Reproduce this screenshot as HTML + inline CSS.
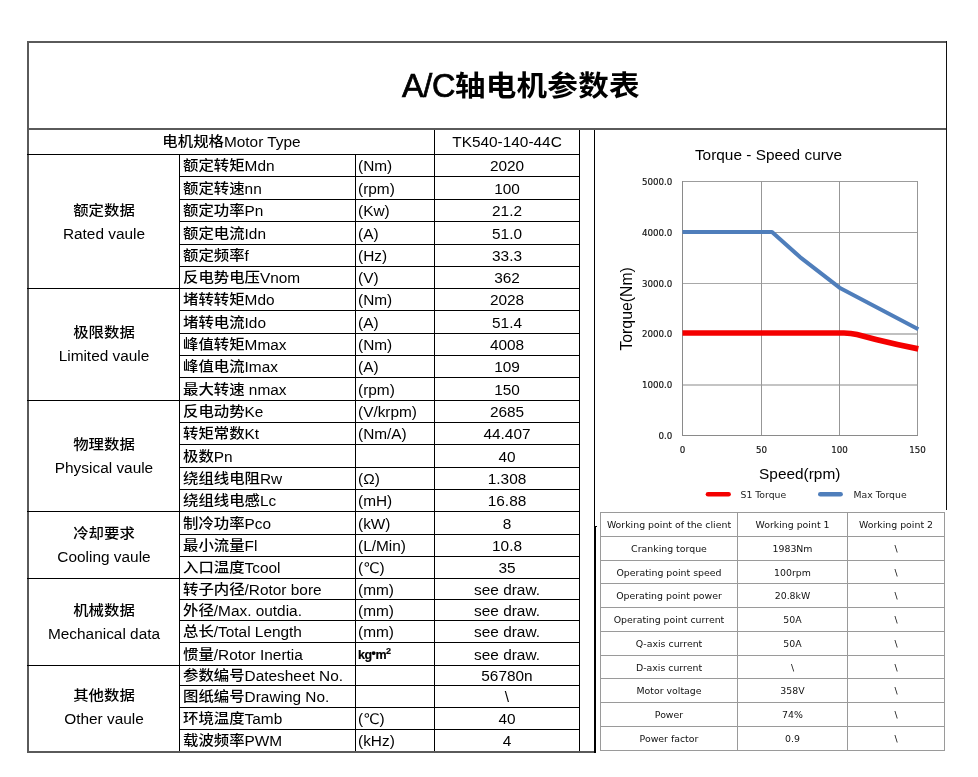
<!DOCTYPE html>
<html><head><meta charset="utf-8"><title>A/C轴电机参数表</title>
<style>
*{margin:0;padding:0;box-sizing:border-box}
html,body{width:978px;height:777px;background:#fff;overflow:hidden}
body{position:relative;font-family:"Liberation Sans","Noto Sans CJK SC",sans-serif;color:#000}
.l{position:absolute}
.c{position:absolute;display:flex;align-items:center;font-weight:500;font-size:15.4px;line-height:17px;white-space:nowrap;padding-top:0.0px}
.ctr{justify-content:center;text-align:center}
.lft{justify-content:flex-start}
.g{line-height:23px;text-align:center}
.cj{display:inline-block;transform:translateY(-0.8px) scaleY(0.9);transform-origin:50% 75%}
.kg{font-weight:bold;font-size:12.5px;letter-spacing:-0.5px;position:relative;top:0.6px;-webkit-text-stroke:0.2px #000}
.bu{position:relative;top:-2.5px}
.dc{font-family:"DejaVu Sans",sans-serif;font-size:14.6px;font-weight:normal}
.kg sup{font-size:9px;vertical-align:5px;line-height:0}
.tc{font-size:30.6px;letter-spacing:0.2px;display:inline-block;transform:translateY(-1px) scaleY(0.93);transform-origin:50% 60%}
.title{position:absolute;left:402px;top:65.5px;font-size:32.5px;font-weight:bold;line-height:40px;white-space:nowrap}
.ta{font-weight:normal;-webkit-text-stroke:0.7px #000;letter-spacing:-0.4px}
.chart{position:absolute;left:0;top:0}
.chart text{font-family:"Liberation Sans",sans-serif;fill:#000}
.tk{font-family:"DejaVu Sans",sans-serif!important;font-size:8.7px;fill:#111!important;stroke:#111;stroke-width:0.15px}
.ttl{font-size:15.4px}
.ax{font-size:15.4px}
.lg{font-family:"DejaVu Sans",sans-serif!important;font-size:9.3px;fill:#222!important}
.w{position:absolute;display:flex;align-items:center;justify-content:center;font-family:"DejaVu Sans",sans-serif;font-size:9.4px;color:#111;white-space:nowrap}
</style></head><body>
<div class="l" style="left:27px;top:41px;width:920px;height:2px;background:#5a5a5a"></div>
<div class="l" style="left:27px;top:41px;width:2px;height:712px;background:#5a5a5a"></div>
<div class="l" style="left:27px;top:128px;width:920px;height:2px;background:#5a5a5a"></div>
<div class="l" style="left:27px;top:751px;width:569px;height:2px;background:#5a5a5a"></div>
<div class="l" style="left:946px;top:41px;width:1px;height:469px;background:#111"></div>
<div class="title"><span class="ta">A/C</span><span class="tc">轴电机参数表</span></div>
<div class="l" style="left:27px;top:154px;width:552px;height:1px;background:#000"></div>
<div class="c ctr" style="left:29px;top:129px;width:405px;height:24px"><span><span class="cj">电机规格</span>Motor Type</span></div>
<div class="c ctr" style="left:435px;top:129px;width:144px;height:24px"><span>TK540-140-44C</span></div>
<div class="l" style="left:434px;top:130px;width:1px;height:621px;background:#000"></div>
<div class="l" style="left:579px;top:130px;width:1px;height:621px;background:#000"></div>
<div class="l" style="left:594px;top:130px;width:1px;height:397px;background:#000"></div>
<div class="l" style="left:594px;top:527px;width:2px;height:226px;background:#000"></div>
<div class="l" style="left:594px;top:526px;width:3px;height:1px;background:#000"></div>
<div class="l" style="left:179px;top:154px;width:1px;height:597px;background:#000"></div>
<div class="l" style="left:355px;top:154px;width:1px;height:597px;background:#000"></div>
<div class="l" style="left:179px;top:176px;width:401px;height:1px;background:#000"></div>
<div class="l" style="left:179px;top:199px;width:401px;height:1px;background:#000"></div>
<div class="l" style="left:179px;top:221px;width:401px;height:1px;background:#000"></div>
<div class="l" style="left:179px;top:244px;width:401px;height:1px;background:#000"></div>
<div class="l" style="left:179px;top:266px;width:401px;height:1px;background:#000"></div>
<div class="l" style="left:179px;top:288px;width:401px;height:1px;background:#000"></div>
<div class="l" style="left:179px;top:310px;width:401px;height:1px;background:#000"></div>
<div class="l" style="left:179px;top:333px;width:401px;height:1px;background:#000"></div>
<div class="l" style="left:179px;top:355px;width:401px;height:1px;background:#000"></div>
<div class="l" style="left:179px;top:377px;width:401px;height:1px;background:#000"></div>
<div class="l" style="left:179px;top:400px;width:401px;height:1px;background:#000"></div>
<div class="l" style="left:179px;top:422px;width:401px;height:1px;background:#000"></div>
<div class="l" style="left:179px;top:444px;width:401px;height:1px;background:#000"></div>
<div class="l" style="left:179px;top:467px;width:401px;height:1px;background:#000"></div>
<div class="l" style="left:179px;top:489px;width:401px;height:1px;background:#000"></div>
<div class="l" style="left:179px;top:511px;width:401px;height:1px;background:#000"></div>
<div class="l" style="left:179px;top:534px;width:401px;height:1px;background:#000"></div>
<div class="l" style="left:179px;top:556px;width:401px;height:1px;background:#000"></div>
<div class="l" style="left:179px;top:578px;width:401px;height:1px;background:#000"></div>
<div class="l" style="left:179px;top:599px;width:401px;height:1px;background:#000"></div>
<div class="l" style="left:179px;top:620px;width:401px;height:1px;background:#000"></div>
<div class="l" style="left:179px;top:642px;width:401px;height:1px;background:#000"></div>
<div class="l" style="left:179px;top:665px;width:401px;height:1px;background:#000"></div>
<div class="l" style="left:179px;top:685px;width:401px;height:1px;background:#000"></div>
<div class="l" style="left:179px;top:707px;width:401px;height:1px;background:#000"></div>
<div class="l" style="left:179px;top:729px;width:401px;height:1px;background:#000"></div>
<div class="l" style="left:27px;top:288px;width:152px;height:1px;background:#000"></div>
<div class="l" style="left:27px;top:400px;width:152px;height:1px;background:#000"></div>
<div class="l" style="left:27px;top:511px;width:152px;height:1px;background:#000"></div>
<div class="l" style="left:27px;top:578px;width:152px;height:1px;background:#000"></div>
<div class="l" style="left:27px;top:665px;width:152px;height:1px;background:#000"></div>
<div class="c lft" style="left:183px;top:155px;width:171px;height:21px"><span><span class="cj">额定转矩</span>Mdn</span></div>
<div class="c lft" style="left:358px;top:155px;width:75px;height:21px"><span>(Nm)</span></div>
<div class="c ctr" style="left:435px;top:155px;width:144px;height:21px"><span>2020</span></div>
<div class="c lft" style="left:183px;top:177px;width:171px;height:22px"><span><span class="cj">额定转速</span>nn</span></div>
<div class="c lft" style="left:358px;top:177px;width:75px;height:22px"><span>(rpm)</span></div>
<div class="c ctr" style="left:435px;top:177px;width:144px;height:22px"><span>100</span></div>
<div class="c lft" style="left:183px;top:200px;width:171px;height:21px"><span><span class="cj">额定功率</span>Pn</span></div>
<div class="c lft" style="left:358px;top:200px;width:75px;height:21px"><span>(Kw)</span></div>
<div class="c ctr" style="left:435px;top:200px;width:144px;height:21px"><span>21.2</span></div>
<div class="c lft" style="left:183px;top:222px;width:171px;height:22px"><span><span class="cj">额定电流</span>Idn</span></div>
<div class="c lft" style="left:358px;top:222px;width:75px;height:22px"><span>(A)</span></div>
<div class="c ctr" style="left:435px;top:222px;width:144px;height:22px"><span>51.0</span></div>
<div class="c lft" style="left:183px;top:245px;width:171px;height:21px"><span><span class="cj">额定频率</span>f</span></div>
<div class="c lft" style="left:358px;top:245px;width:75px;height:21px"><span>(Hz)</span></div>
<div class="c ctr" style="left:435px;top:245px;width:144px;height:21px"><span>33.3</span></div>
<div class="c lft" style="left:183px;top:267px;width:171px;height:21px"><span><span class="cj">反电势电压</span>Vnom</span></div>
<div class="c lft" style="left:358px;top:267px;width:75px;height:21px"><span>(V)</span></div>
<div class="c ctr" style="left:435px;top:267px;width:144px;height:21px"><span>362</span></div>
<div class="c lft" style="left:183px;top:289px;width:171px;height:21px"><span><span class="cj">堵转转矩</span>Mdo</span></div>
<div class="c lft" style="left:358px;top:289px;width:75px;height:21px"><span>(Nm)</span></div>
<div class="c ctr" style="left:435px;top:289px;width:144px;height:21px"><span>2028</span></div>
<div class="c lft" style="left:183px;top:311px;width:171px;height:22px"><span><span class="cj">堵转电流</span>Ido</span></div>
<div class="c lft" style="left:358px;top:311px;width:75px;height:22px"><span>(A)</span></div>
<div class="c ctr" style="left:435px;top:311px;width:144px;height:22px"><span>51.4</span></div>
<div class="c lft" style="left:183px;top:334px;width:171px;height:21px"><span><span class="cj">峰值转矩</span>Mmax</span></div>
<div class="c lft" style="left:358px;top:334px;width:75px;height:21px"><span>(Nm)</span></div>
<div class="c ctr" style="left:435px;top:334px;width:144px;height:21px"><span>4008</span></div>
<div class="c lft" style="left:183px;top:356px;width:171px;height:21px"><span><span class="cj">峰值电流</span>Imax</span></div>
<div class="c lft" style="left:358px;top:356px;width:75px;height:21px"><span>(A)</span></div>
<div class="c ctr" style="left:435px;top:356px;width:144px;height:21px"><span>109</span></div>
<div class="c lft" style="left:183px;top:378px;width:171px;height:22px"><span><span class="cj">最大转速</span> nmax</span></div>
<div class="c lft" style="left:358px;top:378px;width:75px;height:22px"><span>(rpm)</span></div>
<div class="c ctr" style="left:435px;top:378px;width:144px;height:22px"><span>150</span></div>
<div class="c lft" style="left:183px;top:401px;width:171px;height:21px"><span><span class="cj">反电动势</span>Ke</span></div>
<div class="c lft" style="left:358px;top:401px;width:75px;height:21px"><span>(V/krpm)</span></div>
<div class="c ctr" style="left:435px;top:401px;width:144px;height:21px"><span>2685</span></div>
<div class="c lft" style="left:183px;top:423px;width:171px;height:21px"><span><span class="cj">转矩常数</span>Kt</span></div>
<div class="c lft" style="left:358px;top:423px;width:75px;height:21px"><span>(Nm/A)</span></div>
<div class="c ctr" style="left:435px;top:423px;width:144px;height:21px"><span>44.407</span></div>
<div class="c lft" style="left:183px;top:445px;width:171px;height:22px"><span><span class="cj">极数</span>Pn</span></div>
<div class="c ctr" style="left:435px;top:445px;width:144px;height:22px"><span>40</span></div>
<div class="c lft" style="left:183px;top:468px;width:171px;height:21px"><span><span class="cj">绕组线电阻</span>Rw</span></div>
<div class="c lft" style="left:358px;top:468px;width:75px;height:21px"><span>(Ω)</span></div>
<div class="c ctr" style="left:435px;top:468px;width:144px;height:21px"><span>1.308</span></div>
<div class="c lft" style="left:183px;top:490px;width:171px;height:21px"><span><span class="cj">绕组线电感</span>Lc</span></div>
<div class="c lft" style="left:358px;top:490px;width:75px;height:21px"><span>(mH)</span></div>
<div class="c ctr" style="left:435px;top:490px;width:144px;height:21px"><span>16.88</span></div>
<div class="c lft" style="left:183px;top:512px;width:171px;height:22px"><span><span class="cj">制冷功率</span>Pco</span></div>
<div class="c lft" style="left:358px;top:512px;width:75px;height:22px"><span>(kW)</span></div>
<div class="c ctr" style="left:435px;top:512px;width:144px;height:22px"><span>8</span></div>
<div class="c lft" style="left:183px;top:535px;width:171px;height:21px"><span><span class="cj">最小流量</span>Fl</span></div>
<div class="c lft" style="left:358px;top:535px;width:75px;height:21px"><span>(L/Min)</span></div>
<div class="c ctr" style="left:435px;top:535px;width:144px;height:21px"><span>10.8</span></div>
<div class="c lft" style="left:183px;top:557px;width:171px;height:21px"><span><span class="cj">入口温度</span>Tcool</span></div>
<div class="c lft" style="left:358px;top:557px;width:75px;height:21px"><span>(<span class="dc">℃</span>)</span></div>
<div class="c ctr" style="left:435px;top:557px;width:144px;height:21px"><span>35</span></div>
<div class="c lft" style="left:183px;top:579px;width:171px;height:20px"><span><span class="cj">转子内径</span>/Rotor bore</span></div>
<div class="c lft" style="left:358px;top:579px;width:75px;height:20px"><span>(mm)</span></div>
<div class="c ctr" style="left:435px;top:579px;width:144px;height:20px"><span>see draw.</span></div>
<div class="c lft" style="left:183px;top:600px;width:171px;height:20px"><span><span class="cj">外径</span>/Max. outdia.</span></div>
<div class="c lft" style="left:358px;top:600px;width:75px;height:20px"><span>(mm)</span></div>
<div class="c ctr" style="left:435px;top:600px;width:144px;height:20px"><span>see draw.</span></div>
<div class="c lft" style="left:183px;top:621px;width:171px;height:21px"><span><span class="cj">总长</span>/Total Length</span></div>
<div class="c lft" style="left:358px;top:621px;width:75px;height:21px"><span>(mm)</span></div>
<div class="c ctr" style="left:435px;top:621px;width:144px;height:21px"><span>see draw.</span></div>
<div class="c lft" style="left:183px;top:643px;width:171px;height:22px"><span><span class="cj">惯量</span>/Rotor Inertia</span></div>
<div class="c lft" style="left:358px;top:643px;width:75px;height:22px"><span><span class="kg">kg<span class="bu">•</span>m<sup>2</sup></span></span></div>
<div class="c ctr" style="left:435px;top:643px;width:144px;height:22px"><span>see draw.</span></div>
<div class="c lft" style="left:183px;top:666px;width:171px;height:19px"><span><span class="cj">参数编号</span>Datesheet No.</span></div>
<div class="c ctr" style="left:435px;top:666px;width:144px;height:19px"><span>56780n</span></div>
<div class="c lft" style="left:183px;top:686px;width:171px;height:21px"><span><span class="cj">图纸编号</span>Drawing No.</span></div>
<div class="c ctr" style="left:435px;top:686px;width:144px;height:21px"><span>\</span></div>
<div class="c lft" style="left:183px;top:708px;width:171px;height:21px"><span><span class="cj">环境温度</span>Tamb</span></div>
<div class="c lft" style="left:358px;top:708px;width:75px;height:21px"><span>(<span class="dc">℃</span>)</span></div>
<div class="c ctr" style="left:435px;top:708px;width:144px;height:21px"><span>40</span></div>
<div class="c lft" style="left:183px;top:730px;width:171px;height:21px"><span><span class="cj">载波频率</span>PWM</span></div>
<div class="c lft" style="left:358px;top:730px;width:75px;height:21px"><span>(kHz)</span></div>
<div class="c ctr" style="left:435px;top:730px;width:144px;height:21px"><span>4</span></div>
<div class="c ctr" style="left:29px;top:155px;width:150px;height:133px"><span><div class="g"><span class="cj">额定数据</span><br>Rated vaule</div></span></div>
<div class="c ctr" style="left:29px;top:288px;width:150px;height:111px"><span><div class="g"><span class="cj">极限数据</span><br>Limited vaule</div></span></div>
<div class="c ctr" style="left:29px;top:401px;width:150px;height:110px"><span><div class="g"><span class="cj">物理数据</span><br>Physical vaule</div></span></div>
<div class="c ctr" style="left:29px;top:512px;width:150px;height:66px"><span><div class="g"><span class="cj">冷却要求</span><br>Cooling vaule</div></span></div>
<div class="c ctr" style="left:29px;top:579px;width:150px;height:86px"><span><div class="g"><span class="cj">机械数据</span><br>Mechanical data</div></span></div>
<div class="c ctr" style="left:29px;top:664.7px;width:150px;height:85px"><span><div class="g"><span class="cj">其他数据</span><br>Other vaule</div></span></div>
<svg class="chart" width="978" height="777" viewBox="0 0 978 777">
<line x1="682" x2="918" y1="385.0" y2="385.0" stroke="#c4c4c4" stroke-width="2"/>
<line x1="682" x2="918" y1="334.0" y2="334.0" stroke="#c0c0c0" stroke-width="2"/>
<line x1="682" x2="918" y1="283.5" y2="283.5" stroke="#a8a8a8" stroke-width="1"/>
<line x1="682" x2="918" y1="232.5" y2="232.5" stroke="#a0a0a0" stroke-width="1"/>
<line x1="682" x2="918" y1="181.5" y2="181.5" stroke="#9c9c9c" stroke-width="1"/>
<line x1="761.5" x2="761.5" y1="181" y2="436" stroke="#979797" stroke-width="1"/>
<line x1="839.5" x2="839.5" y1="181" y2="436" stroke="#979797" stroke-width="1"/>
<line x1="917.5" x2="917.5" y1="181" y2="436" stroke="#979797" stroke-width="1"/>
<line x1="682.5" x2="682.5" y1="181" y2="436" stroke="#8a8a8a" stroke-width="1"/>
<line x1="682" x2="918" y1="435.5" y2="435.5" stroke="#8a8a8a" stroke-width="1"/>
<text x="672.3" y="438.7" class="tk" text-anchor="end">0.0</text>
<text x="672.3" y="388.2" class="tk" text-anchor="end">1000.0</text>
<text x="672.3" y="337.2" class="tk" text-anchor="end">2000.0</text>
<text x="672.3" y="286.7" class="tk" text-anchor="end">3000.0</text>
<text x="672.3" y="235.7" class="tk" text-anchor="end">4000.0</text>
<text x="672.3" y="184.7" class="tk" text-anchor="end">5000.0</text>
<text x="682.5" y="452.8" class="tk" text-anchor="middle">0</text>
<text x="761.5" y="452.8" class="tk" text-anchor="middle">50</text>
<text x="839.5" y="452.8" class="tk" text-anchor="middle">100</text>
<text x="917.5" y="452.8" class="tk" text-anchor="middle">150</text>
<polyline points="682.5,232.1 772,232.1 800,257.1 839.5,287.7 918.3,329.2" fill="none" stroke="#4f7ebb" stroke-width="4" stroke-linejoin="round"/>
<path d="M682.5,333 L844,333 Q851,333.1 857,334.6 L876,339.5 Q897,344.7 918.3,348.9" fill="none" stroke="#f40000" stroke-width="5.7" stroke-linejoin="round"/>
<text x="768.5" y="160" class="ttl" text-anchor="middle">Torque - Speed curve</text>
<text x="799.7" y="478.6" class="ax" text-anchor="middle">Speed(rpm)</text>
<text transform="translate(632.2,308.9) rotate(-90)" class="ax" style="font-size:15.8px" text-anchor="middle">Torque(Nm)</text>
<line x1="708" x2="728.6" y1="494.2" y2="494.2" stroke="#f40000" stroke-width="4.6" stroke-linecap="round"/>
<text x="740.5" y="497.7" class="lg">S1 Torque</text>
<line x1="820.3" x2="840.6" y1="494.2" y2="494.2" stroke="#4f7ebb" stroke-width="4.6" stroke-linecap="round"/>
<text x="853.5" y="497.7" class="lg">Max Torque</text>
</svg>
<div class="l" style="left:600px;top:512px;width:345px;height:1px;background:#9a9a9a"></div>
<div class="l" style="left:600px;top:536px;width:345px;height:1px;background:#9a9a9a"></div>
<div class="l" style="left:600px;top:560px;width:345px;height:1px;background:#9a9a9a"></div>
<div class="l" style="left:600px;top:583px;width:345px;height:1px;background:#9a9a9a"></div>
<div class="l" style="left:600px;top:607px;width:345px;height:1px;background:#9a9a9a"></div>
<div class="l" style="left:600px;top:631px;width:345px;height:1px;background:#9a9a9a"></div>
<div class="l" style="left:600px;top:655px;width:345px;height:1px;background:#9a9a9a"></div>
<div class="l" style="left:600px;top:678px;width:345px;height:1px;background:#9a9a9a"></div>
<div class="l" style="left:600px;top:702px;width:345px;height:1px;background:#9a9a9a"></div>
<div class="l" style="left:600px;top:726px;width:345px;height:1px;background:#9a9a9a"></div>
<div class="l" style="left:600px;top:750px;width:345px;height:1px;background:#9a9a9a"></div>
<div class="l" style="left:600px;top:512px;width:1px;height:239px;background:#9a9a9a"></div>
<div class="l" style="left:737px;top:512px;width:1px;height:239px;background:#9a9a9a"></div>
<div class="l" style="left:847px;top:512px;width:1px;height:239px;background:#9a9a9a"></div>
<div class="l" style="left:944px;top:512px;width:1px;height:239px;background:#9a9a9a"></div>
<div class="w" style="left:601px;top:513px;width:136px;height:23px">Working point of the client</div>
<div class="w" style="left:738px;top:513px;width:109px;height:23px">Working point 1</div>
<div class="w" style="left:848px;top:513px;width:96px;height:23px">Working point 2</div>
<div class="w" style="left:601px;top:537px;width:136px;height:23px">Cranking torque</div>
<div class="w" style="left:738px;top:537px;width:109px;height:23px">1983Nm</div>
<div class="w" style="left:848px;top:537px;width:96px;height:23px">\</div>
<div class="w" style="left:601px;top:561px;width:136px;height:22px">Operating point speed</div>
<div class="w" style="left:738px;top:561px;width:109px;height:22px">100rpm</div>
<div class="w" style="left:848px;top:561px;width:96px;height:22px">\</div>
<div class="w" style="left:601px;top:584px;width:136px;height:23px">Operating point power</div>
<div class="w" style="left:738px;top:584px;width:109px;height:23px">20.8kW</div>
<div class="w" style="left:848px;top:584px;width:96px;height:23px">\</div>
<div class="w" style="left:601px;top:608px;width:136px;height:23px">Operating point current</div>
<div class="w" style="left:738px;top:608px;width:109px;height:23px">50A</div>
<div class="w" style="left:848px;top:608px;width:96px;height:23px">\</div>
<div class="w" style="left:601px;top:632px;width:136px;height:23px">Q-axis current</div>
<div class="w" style="left:738px;top:632px;width:109px;height:23px">50A</div>
<div class="w" style="left:848px;top:632px;width:96px;height:23px">\</div>
<div class="w" style="left:601px;top:656px;width:136px;height:22px">D-axis current</div>
<div class="w" style="left:738px;top:656px;width:109px;height:22px">\</div>
<div class="w" style="left:848px;top:656px;width:96px;height:22px">\</div>
<div class="w" style="left:601px;top:679px;width:136px;height:23px">Motor voltage</div>
<div class="w" style="left:738px;top:679px;width:109px;height:23px">358V</div>
<div class="w" style="left:848px;top:679px;width:96px;height:23px">\</div>
<div class="w" style="left:601px;top:703px;width:136px;height:23px">Power</div>
<div class="w" style="left:738px;top:703px;width:109px;height:23px">74%</div>
<div class="w" style="left:848px;top:703px;width:96px;height:23px">\</div>
<div class="w" style="left:601px;top:727px;width:136px;height:23px">Power factor</div>
<div class="w" style="left:738px;top:727px;width:109px;height:23px">0.9</div>
<div class="w" style="left:848px;top:727px;width:96px;height:23px">\</div>
</body></html>
